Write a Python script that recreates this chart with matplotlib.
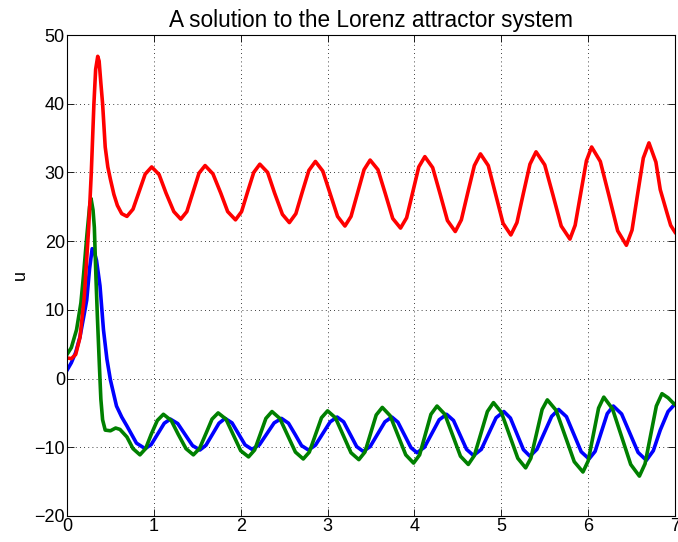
import matplotlib
matplotlib.use("Agg")
import matplotlib.pyplot as plt

plt.rcParams['font.family'] = ['Liberation Sans', 'DejaVu Sans']

# 시간 / 값
t_x = [0.00, 0.05, 0.10, 0.15, 0.20, 0.227, 0.26, 0.29, 0.31, 0.34, 0.38, 0.42, 0.46, 0.50,
       0.57, 0.63, 0.69, 0.80, 0.90,
       0.97, 1.045, 1.12, 1.19, 1.275, 1.36, 1.445, 1.53,
       1.60, 1.675, 1.75, 1.82, 1.90, 1.975, 2.05, 2.13,
       2.215, 2.30, 2.385, 2.47, 2.55, 2.625, 2.70, 2.78,
       2.86, 2.945, 3.03, 3.11, 3.185, 3.26, 3.335, 3.41,
       3.49, 3.575, 3.66, 3.74, 3.81, 3.885, 3.96, 4.03,
       4.115, 4.20, 4.285, 4.37, 4.45, 4.525, 4.60, 4.68,
       4.77, 4.855, 4.94, 5.03, 5.105, 5.18, 5.255, 5.33,
       5.41, 5.495, 5.58, 5.66, 5.75, 5.835, 5.92, 6.01,
       6.08, 6.15, 6.22, 6.29, 6.385, 6.48, 6.575, 6.67,
       6.75, 6.83, 6.92, 7.00]
x_vals = [1.2, 2.3, 3.8, 6.1, 9.5, 11.4, 16.0, 18.9, 18.6, 17.2, 13.5, 7.1, 2.8, -0.2,
          -4.0, -5.6, -6.9, -9.4, -10.2,
          -9.6, -8.05, -6.5, -5.9, -6.55, -8.15, -9.75, -10.4,
          -9.7, -8.1, -6.5, -5.8, -6.45, -8.05, -9.65, -10.3,
          -9.65, -8.05, -6.45, -5.8, -6.5, -8.1, -9.75, -10.4,
          -9.7, -8.0, -6.3, -5.6, -6.3, -8.1, -9.9, -10.6,
          -9.9, -8.1, -6.3, -5.6, -6.35, -8.2, -10.05, -10.8,
          -10.0, -8.0, -6.0, -5.2, -6.1, -8.2, -10.3, -11.2,
          -10.3, -8.0, -5.7, -4.8, -5.75, -8.05, -10.35, -11.3,
          -10.3, -7.9, -5.5, -4.5, -5.55, -8.1, -10.65, -11.7,
          -10.6, -7.85, -5.1, -4.0, -5.15, -7.95, -10.75, -11.9,
          -10.5, -7.5, -4.8, -3.7]

t_y = [0.00, 0.05, 0.11, 0.16, 0.19, 0.23, 0.26, 0.277, 0.30, 0.315, 0.334, 0.35, 0.372,
       0.39, 0.41, 0.44, 0.50, 0.56, 0.61, 0.69, 0.76, 0.84,
       0.905, 0.97, 1.04, 1.11, 1.20, 1.28, 1.37, 1.455,
       1.525, 1.60, 1.67, 1.74, 1.83, 1.915, 2.00, 2.09,
       2.16, 2.225, 2.29, 2.36, 2.45, 2.54, 2.63, 2.72,
       2.79, 2.86, 2.93, 3.00, 3.09, 3.18, 3.27, 3.36,
       3.43, 3.495, 3.56, 3.63, 3.72, 3.81, 3.90, 3.99,
       4.06, 4.125, 4.19, 4.26, 4.35, 4.44, 4.53, 4.62,
       4.69, 4.765, 4.84, 4.91, 5.00, 5.095, 5.19, 5.28,
       5.34, 5.405, 5.47, 5.53, 5.63, 5.735, 5.84, 5.94,
       6.00, 6.06, 6.12, 6.18, 6.28, 6.385, 6.49, 6.59,
       6.655, 6.72, 6.785, 6.85, 6.92, 6.99]
y_vals = [3.5, 4.5, 7.1, 11.0, 15.0, 21.0, 25.0, 26.2, 24.5, 22.0, 14.5, 9.0, 2.2,
          -3.0, -6.0, -7.5, -7.6, -7.2, -7.4, -8.5, -10.2, -11.1,
          -10.2, -8.1, -6.1, -5.2, -6.1, -8.1, -10.2, -11.1,
          -10.2, -8.0, -5.9, -5.0, -5.9, -8.2, -10.5, -11.4,
          -10.4, -8.1, -5.8, -4.8, -5.8, -8.25, -10.7, -11.7,
          -10.7, -8.2, -5.7, -4.7, -5.7, -8.25, -10.8, -11.8,
          -10.7, -8.0, -5.3, -4.2, -5.4, -8.25, -11.1, -12.3,
          -11.1, -8.15, -5.2, -4.0, -5.2, -8.25, -11.3, -12.5,
          -11.2, -8.0, -4.8, -3.5, -4.9, -8.25, -11.6, -13.0,
          -11.6, -8.05, -4.5, -3.1, -4.6, -8.35, -12.1, -13.6,
          -12.0, -8.15, -4.3, -2.7, -4.4, -8.45, -12.5, -14.2,
          -12.4, -8.2, -4.0, -2.2, -2.8, -3.7]

t_z = [0.00, 0.05, 0.10, 0.15, 0.20, 0.25, 0.28, 0.31, 0.33, 0.354, 0.37, 0.39, 0.41,
       0.44, 0.47, 0.50, 0.54, 0.58, 0.63, 0.69,
       0.76, 0.83, 0.90, 0.975, 1.06, 1.14, 1.23, 1.31,
       1.38, 1.45, 1.52, 1.59, 1.68, 1.77, 1.85, 1.94,
       2.01, 2.08, 2.15, 2.22, 2.31, 2.39, 2.48, 2.56,
       2.635, 2.71, 2.785, 2.86, 2.945, 3.03, 3.115, 3.20,
       3.27, 3.345, 3.42, 3.49, 3.58, 3.665, 3.75, 3.84,
       3.91, 3.98, 4.05, 4.12, 4.21, 4.295, 4.38, 4.47,
       4.54, 4.615, 4.69, 4.76, 4.85, 4.935, 5.02, 5.11,
       5.18, 5.255, 5.33, 5.40, 5.50, 5.595, 5.69, 5.79,
       5.85, 5.915, 5.98, 6.04, 6.14, 6.24, 6.34, 6.44,
       6.505, 6.57, 6.635, 6.70, 6.78, 6.83, 6.91, 6.95, 7.00]
z_vals = [3.0, 2.9, 3.5, 6.0, 12.0, 22.0, 30.0, 40.0, 45.0, 46.9, 46.2, 43.0, 40.0,
          33.7, 30.8, 29.0, 26.8, 25.2, 24.0, 23.6,
          24.65, 27.2, 29.75, 30.8, 29.7, 27.0, 24.3, 23.2,
          24.3, 27.1, 29.9, 31.0, 29.8, 27.0, 24.3, 23.1,
          24.3, 27.2, 30.0, 31.2, 30.0, 27.0, 23.9, 22.7,
          24.0, 27.2, 30.3, 31.6, 30.2, 26.9, 23.6, 22.2,
          23.6, 27.0, 30.4, 31.8, 30.4, 26.9, 23.3, 21.9,
          23.4, 27.1, 30.8, 32.3, 30.7, 26.9, 23.0, 21.4,
          23.1, 27.1, 31.0, 32.7, 31.0, 26.8, 22.6, 20.9,
          22.7, 27.0, 31.2, 33.0, 31.1, 26.7, 22.2, 20.3,
          22.3, 27.0, 31.7, 33.7, 31.6, 26.6, 21.5, 19.4,
          21.6, 26.9, 32.1, 34.3, 31.5, 27.5, 24.0, 22.3, 21.3]

x_ticks = [0, 1, 2, 3, 4, 5, 6, 7]
y_ticks = [-20, -10, 0, 10, 20, 30, 40, 50]

fig = plt.figure(figsize=(6.78, 5.42), dpi=100)
ax = fig.add_axes([0.0988, 0.048, 0.8968, 0.8874])

ax.plot(t_x, x_vals, color=(0, 0, 1), lw=2.6)
ax.plot(t_y, y_vals, color=(0, 0.5, 0), lw=2.6)
ax.plot(t_z, z_vals, color=(1, 0, 0), lw=2.6)

ax.set_xlim(0, 7)
ax.set_ylim(-20, 50)
ax.set_xticks(x_ticks)
ax.set_yticks(y_ticks)
ax.tick_params(direction='in', top=True, right=True, labelsize=13, length=5, width=0.6, pad=1.5)
ax.grid(True, color='black', linestyle=(0, (1, 4)), linewidth=0.6)
for s in ax.spines.values():
    s.set_linewidth(0.8)

ax.set_title("A solution to the Lorenz attractor system", fontsize=16.3, pad=6)
ax.set_ylabel("u", fontsize=13, labelpad=4)

fig.savefig("out.png", dpi=100)
plt.close(fig)
